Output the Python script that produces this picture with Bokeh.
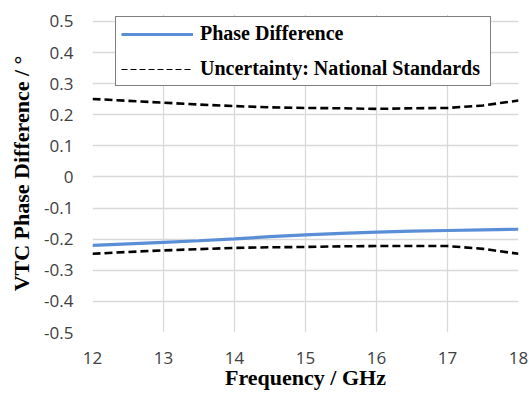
from bokeh.plotting import figure
from bokeh.models import Range1d, FixedTicker, Legend, LegendItem, ColumnDataSource
from bokeh.embed import file_html
from bokeh.resources import INLINE

# ---- data ----
freq = [12, 12.5, 13, 13.5, 14, 14.5, 15, 15.5, 16, 16.5, 17, 17.5, 18]
phase_diff = [-0.220, -0.215, -0.210, -0.205, -0.199, -0.192, -0.186, -0.181,
              -0.177, -0.174, -0.172, -0.170, -0.168]
unc_upper = [0.251, 0.245, 0.239, 0.233, 0.228, 0.224, 0.222, 0.221,
             0.219, 0.221, 0.222, 0.230, 0.246]
unc_lower = [-0.247, -0.241, -0.236, -0.232, -0.228, -0.226, -0.225, -0.223,
             -0.222, -0.222, -0.222, -0.231, -0.247]

x_ticks = [12, 13, 14, 15, 16, 17, 18]
x_tick_labels = ["12", "13", "14", "15", "16", "17", "18"]
y_ticks = [-0.5, -0.4, -0.3, -0.2, -0.1, 0.0, 0.1, 0.2, 0.3, 0.4, 0.5]
y_tick_labels = ["-0.5", "-0.4", "-0.3", "-0.2", "-0.1", "0", "0.1", "0.2", "0.3", "0.4", "0.5"]
y_grid_ticks = [-0.4, -0.3, -0.2, -0.1, 0.0, 0.1, 0.2, 0.3, 0.4, 0.5]

x_label = "Frequency / GHz"
y_label = "VTC Phase Difference / °"
series_names = ["Phase Difference", "Uncertainty: National Standards"]

BLUE = "#5a8fd8"
GRID = "#d9d9d9"
TICK_COLOR = "#404040"

# y range reaches a little above 0.5 so the legend box (which pokes above
# the 0.5 gridline in the reference) stays inside the frame
p = figure(width=529, height=393, output_backend="svg", toolbar_location=None,
           x_range=Range1d(12, 18), y_range=Range1d(-0.5, 0.5225),
           min_border_left=92, min_border_right=11, min_border_top=14, min_border_bottom=61)
p.outline_line_color = None
p.background_fill_color = "white"

# grid
p.xgrid.ticker = FixedTicker(ticks=x_ticks)
p.ygrid.ticker = FixedTicker(ticks=y_grid_ticks)
for g in (p.xgrid, p.ygrid):
    g.grid_line_color = GRID
    g.grid_line_width = 1.3

# axes
p.xaxis.ticker = FixedTicker(ticks=x_ticks)
p.yaxis.ticker = FixedTicker(ticks=y_ticks)
p.xaxis.major_label_overrides = {t: l for t, l in zip(x_ticks, x_tick_labels)}
p.yaxis.major_label_overrides = {t: l for t, l in zip(y_ticks, y_tick_labels)}
for ax in (p.xaxis, p.yaxis):
    ax.axis_line_color = None
    ax.major_tick_line_color = None
    ax.minor_tick_line_color = None
    ax.major_tick_out = 0
    ax.major_tick_in = 0
    ax.major_label_text_font = "Open Sans"
    ax.major_label_text_font_size = "17px"
    ax.major_label_text_color = TICK_COLOR
    ax.axis_label_text_font = "Liberation Serif"
    ax.axis_label_text_font_style = "bold"
    ax.axis_label_text_font_size = "22px"
    ax.axis_label_text_color = "black"
p.xaxis.axis_label = x_label
p.yaxis.axis_label = y_label
p.xaxis.major_label_standoff = 19
p.yaxis.major_label_standoff = 19
p.xaxis.axis_label_standoff = -2
p.yaxis.axis_label_standoff = 7

src = ColumnDataSource(dict(f=freq, pd=phase_diff, up=unc_upper, lo=unc_lower))

r_up = p.line("f", "up", source=src, line_color="black", line_width=2.6, line_dash="8 4")
r_lo = p.line("f", "lo", source=src, line_color="black", line_width=2.6, line_dash="8 4")
r_pd = p.line("f", "pd", source=src, line_color=BLUE, line_width=3.2)

# legend sample for the dashed series (thin, as in the reference legend)
nan = float("nan")
r_leg = p.line(x=[nan, nan], y=[nan, nan], line_color="black", line_width=1.2, line_dash="6 3")

legend = Legend(items=[LegendItem(label=series_names[0], renderers=[r_pd]),
                       LegendItem(label=series_names[1], renderers=[r_leg])],
                location=(23, 246))
legend.label_text_font = "Liberation Serif"
legend.label_text_font_style = "bold"
legend.label_text_font_size = "20px"
legend.label_text_color = "black"
legend.border_line_color = "black"
legend.border_line_width = 1
legend.background_fill_color = "white"
legend.background_fill_alpha = 1
legend.padding = 5
legend.spacing = 12
legend.margin = 0
legend.glyph_width = 72
legend.glyph_height = 22
legend.label_standoff = 7
legend.label_height = 22
legend.label_width = 285
p.add_layout(legend, "center")

open("out.html", "w").write(file_html(p, INLINE))
